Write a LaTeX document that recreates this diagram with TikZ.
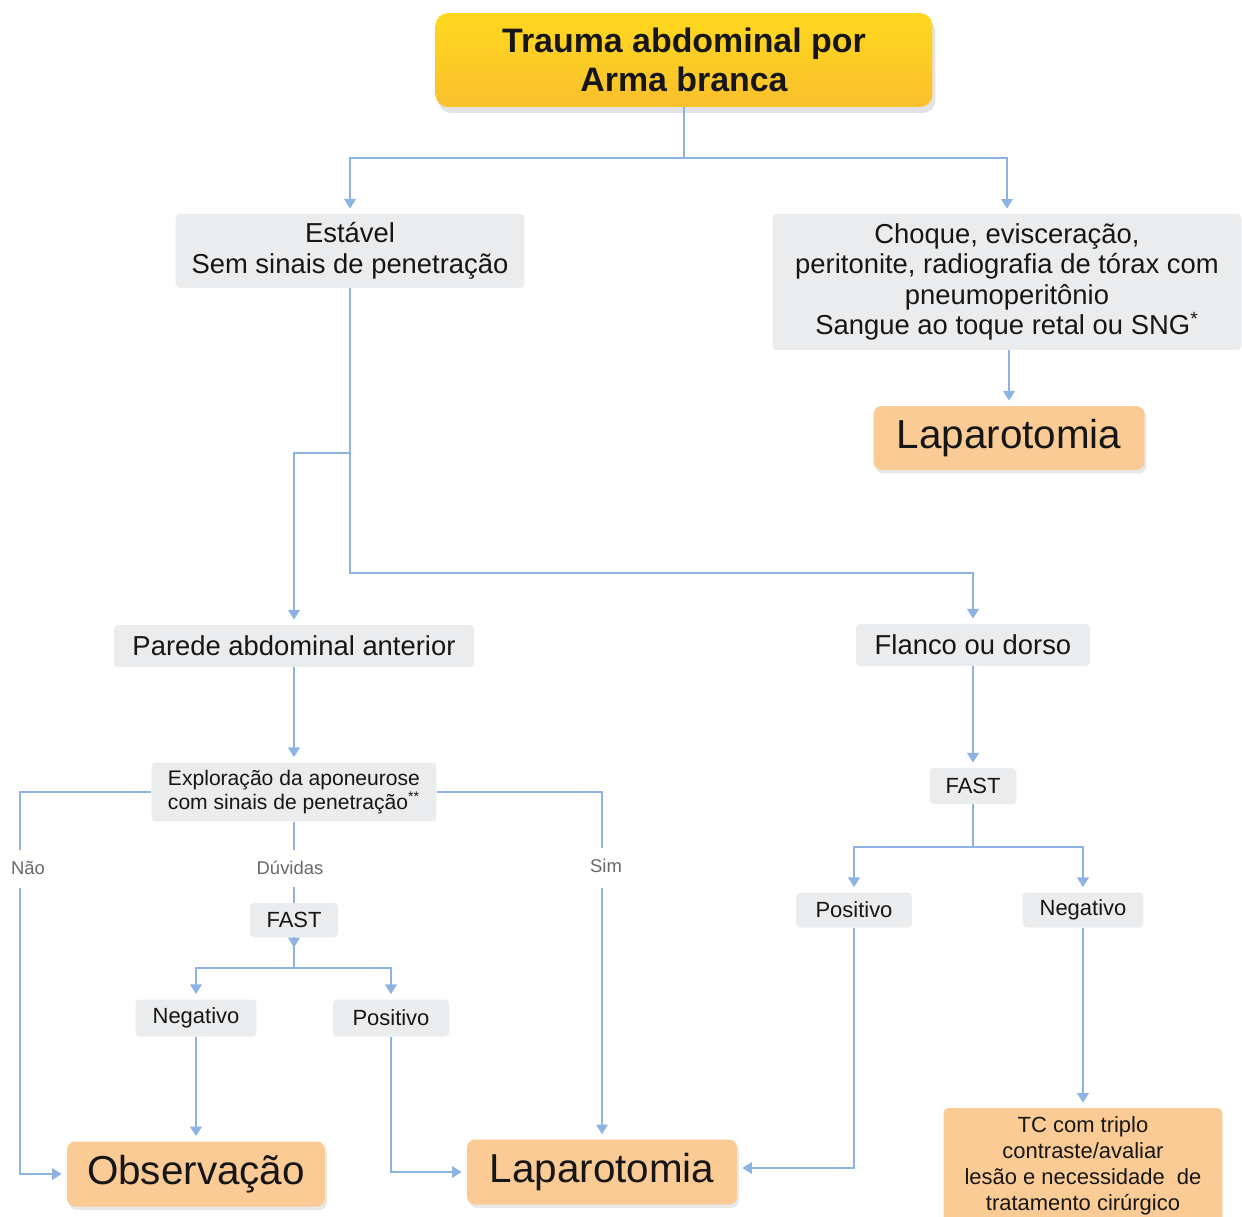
\documentclass[tikz,border=0pt]{standalone}
\usepackage{fontspec}
\setmainfont{Liberation Sans}
\usetikzlibrary{arrows.meta,shadows,calc}
\definecolor{linec}{RGB}{141,179,226}
\definecolor{grayf}{RGB}{235,236,238}
\definecolor{orangef}{RGB}{251,203,150}
\definecolor{ytop}{RGB}{255,216,30}
\definecolor{ybot}{RGB}{250,192,45}
\definecolor{txt}{RGB}{22,22,22}
\definecolor{lblc}{RGB}{105,105,105}
\begin{document}
\begin{tikzpicture}[x=0.02cm,y=-0.02cm,
  box/.style={rectangle, rounded corners=0.08cm, align=center, inner sep=0pt, text=txt},
  graybox/.style={box, fill=grayf},
  orangebox/.style={box, fill=orangef, rounded corners=0.16cm,
    drop shadow={opacity=0.18, shadow xshift=0.04cm, shadow yshift=-0.07cm}},
  fmid/.style={font=\fontsize{15.6}{17.5}\selectfont},
  fsmall/.style={font=\fontsize{12.5}{14.7}\selectfont},
  fbig/.style={font=\fontsize{23}{26}\selectfont},
  conn/.style={draw=linec, line width=1.3pt},
  arr/.style={conn, -{Triangle[width=6.5pt,length=5.5pt]}, shorten >=0.1cm},
  lbl/.style={text=lblc, font=\fontsize{10.5}{12}\selectfont, inner sep=1pt},
]
\clip (0,0) rectangle (1242,1217);
\fill[white] (0,0) rectangle (1242,1217);

% ---------- nodes ----------
\node[box, minimum width=9.94cm, minimum height=1.88cm, top color=ytop, bottom color=ybot,
  rounded corners=0.25cm, drop shadow={opacity=0.22, shadow xshift=0.06cm, shadow yshift=-0.12cm},
  font=\bfseries\fontsize{19.3}{22}\selectfont] (title) at (684,60) {Trauma abdominal por\\Arma branca};

\node[graybox, fmid, minimum width=6.98cm, minimum height=1.48cm] (estavel) at (350,251)
  {Estável\\Sem sinais de penetração};
\node[graybox, fmid, font=\fontsize{15.6}{17.3}\selectfont, minimum width=9.38cm, minimum height=2.72cm] (choque) at (1007,282)
  {Choque, evisceração,\\peritonite, radiografia de tórax com\\pneumoperitônio\\Sangue ao toque retal ou SNG\textsuperscript{*}};
\node[orangebox, fbig, minimum width=5.42cm, minimum height=1.28cm] (lap1) at (1009,438) {Laparotomia};

\node[graybox, fmid, minimum width=7.2cm, minimum height=0.84cm] (parede) at (294,646) {Parede abdominal anterior};
\node[graybox, fmid, minimum width=4.68cm, minimum height=0.84cm] (flanco) at (973,645) {Flanco ou dorso};

\node[graybox, font=\fontsize{12}{13.2}\selectfont, minimum width=5.7cm, minimum height=1.18cm] (explor) at (294,792)
  {Exploração da aponeurose\\com sinais de penetração\textsuperscript{**}};

\node[lbl] (nao) at (28,868) {Não};
\node[lbl] (duv) at (290,868) {Dúvidas};
\node[lbl] (sim) at (606,866) {Sim};

\coordinate (naoTop) at (20,850);
\coordinate (naoBot) at (20,888);
\coordinate (simTop) at (602,848);
\coordinate (simBot) at (602,888);
\coordinate (duvTop) at (294,850);
\coordinate (duvBot) at (294,887);

% connector behind left FAST box
\draw[conn] (duvBot) -- (294,925);

\node[graybox, fsmall, minimum width=1.76cm, minimum height=0.68cm] (fastL) at (294,920) {FAST};
\node[graybox, fsmall, minimum width=2.42cm, minimum height=0.74cm] (negL) at (196,1018) {Negativo};
\node[graybox, fsmall, minimum width=2.32cm, minimum height=0.74cm] (posL) at (391,1018) {Positivo};

\node[graybox, fsmall, minimum width=1.74cm, minimum height=0.72cm] (fastR) at (973,786) {FAST};
\node[graybox, fsmall, minimum width=2.32cm, minimum height=0.7cm] (posR) at (854,910) {Positivo};
\node[graybox, fsmall, minimum width=2.42cm, minimum height=0.7cm] (negR) at (1083,910) {Negativo};

\node[orangebox, fbig, minimum width=5.16cm, minimum height=1.3cm] (obs) at (196,1174) {Observação};
\node[orangebox, fbig, minimum width=5.4cm, minimum height=1.3cm] (lap2) at (602,1172) {Laparotomia};
\node[box, fill=orangef, rounded corners=0.1cm, fsmall, minimum width=5.58cm, minimum height=2.32cm] (tc) at (1083,1166)
  {TC com triplo\\contraste/avaliar\\lesão e necessidade\ \ de\\tratamento cirúrgico};

% ---------- connectors ----------
\draw[conn] (title.south) -- ++(0,51) coordinate (j1);
\draw[arr] (j1) -| (estavel.north);
\draw[arr] (j1) -| (choque.north);
\draw[arr] (lap1.north |- choque.south) -- (lap1.north);

\draw[conn] (estavel.south) -- ($(estavel.south)+(0,165)$) coordinate (j2);
\draw[arr] (j2) -| (parede.north);
\draw[arr] (estavel.south) -- ($(estavel.south)+(0,285)$) -| (flanco.north);

\draw[arr] (parede.south) -- (explor.north);

\draw[conn] (explor.west) -| (naoTop);
\draw[arr] (naoBot) |- (obs.west);
\draw[conn] (explor.east) -| (simTop);
\draw[arr] (simBot) -- (lap2.north);
\draw[conn] (explor.south) -- (duvTop);

\draw[arr, shorten >=0pt] (fastL.south) -- ++(0,10) coordinate (fastTip);
\draw[conn] (fastL.south) -- ++(0,31) coordinate (jL);
\draw[arr] (jL) -| (negL.north);
\draw[arr] (jL) -| (posL.north);
\draw[arr] (negL.south) -- (negL.south |- obs.north);
\draw[arr] (posL.south) |- (lap2.west);

\draw[arr] (flanco.south) -- (flanco.south |- fastR.north);
\draw[conn] (fastR.south) -- ++(0,43) coordinate (jR);
\draw[arr] (jR) -| (posR.north);
\draw[arr] (jR) -| (negR.north);
\draw[arr] (posR.south) |- ($(lap2.east)+(0,-4)$);
\draw[arr] (negR.south) -- (negR.south |- tc.north);
\end{tikzpicture}
\end{document}
